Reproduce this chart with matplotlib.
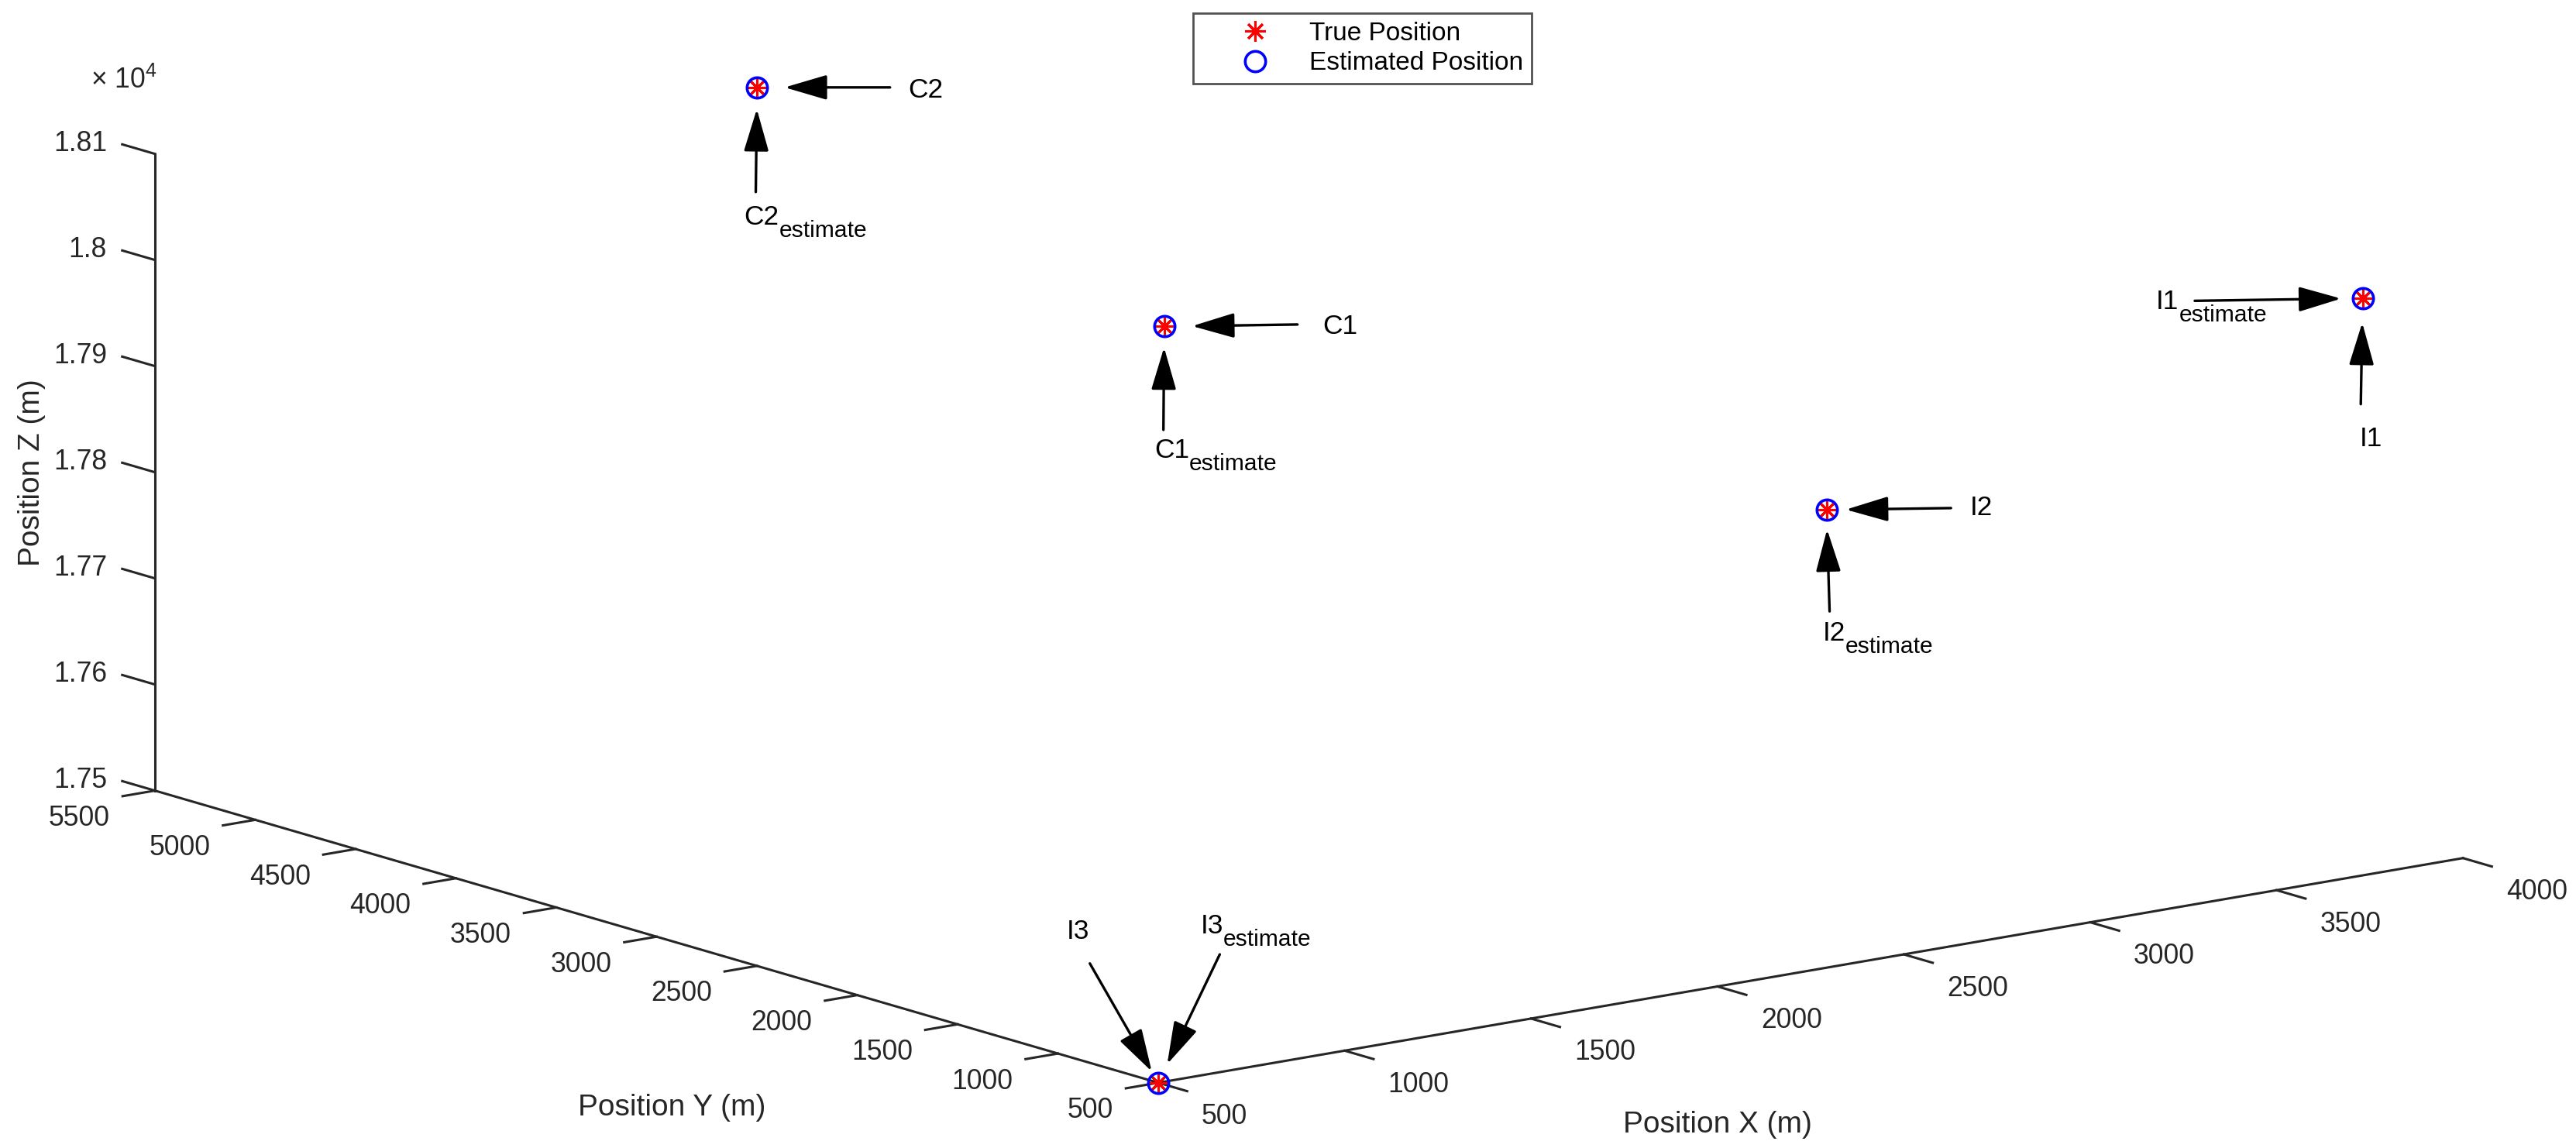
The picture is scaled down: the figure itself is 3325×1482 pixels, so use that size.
import matplotlib
matplotlib.use("Agg")
import matplotlib.pyplot as plt
from matplotlib.ticker import NullFormatter
from mpl_toolkits.mplot3d import proj3d
import numpy as np

plt.rcParams['font.family'] = 'Liberation Sans'
plt.rcParams['mathtext.fontset'] = 'custom'
plt.rcParams['mathtext.rm'] = 'Liberation Sans'

# positions (m)
names = ['C1', 'C2', 'I1', 'I2', 'I3']
true_x = [2400, 1900, 4000, 3100, 500]
true_y = [4000, 5100, 1000, 2000, 500]
true_z = [17905, 18100, 18000, 17800, 17500]
est_x = [2400, 1900, 4000, 3100, 500]
est_y = [4000, 5100, 1000, 2000, 500]
est_z = [17905, 18100, 18000, 17800, 17500]

x_ticks = [500, 1000, 1500, 2000, 2500, 3000, 3500, 4000]
y_ticks = [500, 1000, 1500, 2000, 2500, 3000, 3500, 4000, 4500, 5000, 5500]
z_ticks = [17500, 17600, 17700, 17800, 17900, 18000, 18100]

DPI = 200
W, H = 3325, 1482
dark = '#262626'
tick_fs = 12.8

fig = plt.figure(figsize=(W / DPI, H / DPI), dpi=DPI)
S = 3600
cx, cy = 1689.5, 1482 - 653.25
ax = fig.add_axes([(cx - 0.5135 * S) / W, (cy - 0.5135 * S) / H, S / W, S / H],
                  projection='3d')
ax.set_proj_type('ortho')
ax.view_init(elev=12.94, azim=-127.56)
ax.set_box_aspect((1, 1, 0.397), zoom=0.8415)
ax.set_xlim(500, 4000, view_margin=0)
ax.set_ylim(500, 5500, view_margin=0)
ax.set_zlim(17500, 18100, view_margin=0)
ax.set_xticks(x_ticks)
ax.set_yticks(y_ticks)
ax.set_zticks(z_ticks)
ax.grid(False)
ax.tick_params(colors=dark)

inward = {'x': 0.36, 'y': 0.31, 'z': 0.0}
for name, axis in zip('xyz', (ax.xaxis, ax.yaxis, ax.zaxis)):
    axis.set_major_formatter(NullFormatter())
    axis.set_pane_color((1, 1, 1, 0))
    axis.pane.set_edgecolor((1, 1, 1, 0))
    axis._axinfo['axisline']['color'] = dark
    axis._axinfo['axisline']['linewidth'] = 1.1
    axis.line.set_color(dark)
    axis.line.set_linewidth(1.1)
    axis._axinfo['tick']['outward_factor'] = 0.0
    axis._axinfo['tick']['inward_factor'] = inward[name]
    axis._axinfo['tick']['linewidth'] = {True: 1.1, False: 0.5}

M = ax.get_proj()


def to2d(x, y, z):
    px, py, _ = proj3d.proj_transform(np.atleast_1d(np.asarray(x, float)),
                                      np.atleast_1d(np.asarray(y, float)),
                                      np.atleast_1d(np.asarray(z, float)), M)
    return px, py


# z ticks point along +y like MATLAB's
for z in z_ticks:
    ax.plot([500, 500], [5500, 5663], [z, z], color=dark, lw=1.1, clip_on=False)

# tick labels, offsets in pixels from the tick base
bx, by = to2d(x_ticks, [500] * len(x_ticks), [17500] * len(x_ticks))
for v, x0, y0 in zip(x_ticks, bx, by):
    ax.annotate(str(v), (x0, y0), xytext=(56, -44), textcoords='offset pixels',
                ha='left', va='center', fontsize=tick_fs, color=dark)
bx, by = to2d([500] * len(y_ticks), y_ticks, [17500] * len(y_ticks))
for v, x0, y0 in zip(y_ticks, bx, by):
    ax.annotate(str(v), (x0, y0), xytext=(-58, -36), textcoords='offset pixels',
                ha='right', va='center', fontsize=tick_fs, color=dark)
bx, by = to2d([500] * len(z_ticks), [5500] * len(z_ticks), z_ticks)
for v, x0, y0 in zip(z_ticks, bx, by):
    ax.annotate(f'{v / 1e4:g}', (x0, y0), xytext=(-62, 13), textcoords='offset pixels',
                ha='right', va='center', fontsize=tick_fs, color=dark)

ax.plot(true_x, true_y, true_z, ls='none', marker=(8, 2, 0), ms=9.5,
        color='red', mew=1.1, label='True Position', clip_on=False)
ax.plot(est_x, est_y, est_z, ls='none', marker='o', ms=9.5, mfc='none',
        mec='blue', mew=1.3, label='Estimated Position', clip_on=False)

# (label, subscript?, text offset, arrow tail offset, gap) in pixels, y up
notes = {
    'C2': [('C2', False, (195, -13.4), (171.6, 0), 35.6),
           ('C2', True, (-16.7, -176.7), (-1.7, -135), 28)],
    'C1': [('C1', False, (205, -10), (172, 2.6), 36),
           ('C1', True, (-12.7, -170), (-1, -133.4), 27)],
    'I1': [('I1', True, (-266.4, -14.3), (-216.7, -3.3), 27.8),
           ('I1', False, (-4, -190.6), (-2.4, -136.7), 31.6)],
    'I2': [('I2', False, (185, -6.7), (160.7, 2.3), 25),
           ('I2', True, (-5, -169.3), (4, -131), 25.2)],
    'I3': [('I3', False, (-118.3, 185.7), (-88.3, 154), 16.8),
           ('I3', True, (54.4, 192.4), (79.4, 165.7), 26.7)],
}

px, py = to2d(true_x, true_y, true_z)
for i, n in enumerate(names):
    for label, sub, toff, tail, gap in notes[n]:
        ax.annotate('', xy=(px[i], py[i]), xytext=tail, textcoords='offset pixels',
                    arrowprops=dict(arrowstyle='-|>,head_length=1.7,head_width=0.5',
                                    mutation_scale=10, color='black', lw=1.2,
                                    shrinkA=0, shrinkB=gap * 72 / DPI))
        t = ax.annotate(label, xy=(px[i], py[i]), xytext=toff, textcoords='offset pixels',
                        ha='left', va='baseline', fontsize=12.7, color='black')
        if sub:
            ax.annotate('estimate', xy=(1, 0), xycoords=t, xytext=(0, -9),
                        textcoords='offset pixels', ha='left', va='baseline',
                        fontsize=10.8, color='black')

fig.text(117 / W, 1 - 114 / H, '× 10$^{4}$', fontsize=tick_fs, color=dark,
         ha='left', va='baseline')
fig.text(867 / W, 1 - 1440 / H, 'Position Y (m)', fontsize=14, color=dark,
         ha='center', va='baseline')
fig.text(2217 / W, 1 - 1462 / H, 'Position X (m)', fontsize=14, color=dark,
         ha='center', va='baseline')
fig.text(41 / W, 1 - 610 / H, 'Position Z (m)', fontsize=14, color=dark,
         ha='center', va='center', rotation=90)

leg = fig.legend(loc='upper left', bbox_to_anchor=(1540 / W, 1 - 17 / H),
                 fontsize=12, frameon=True, fancybox=False, edgecolor=dark,
                 borderaxespad=0, borderpad=0.32, handlelength=4.16,
                 handletextpad=0.02, labelspacing=0.23, numpoints=1)
leg.get_frame().set_linewidth(1.0)

fig.savefig('out.png', dpi=DPI)
